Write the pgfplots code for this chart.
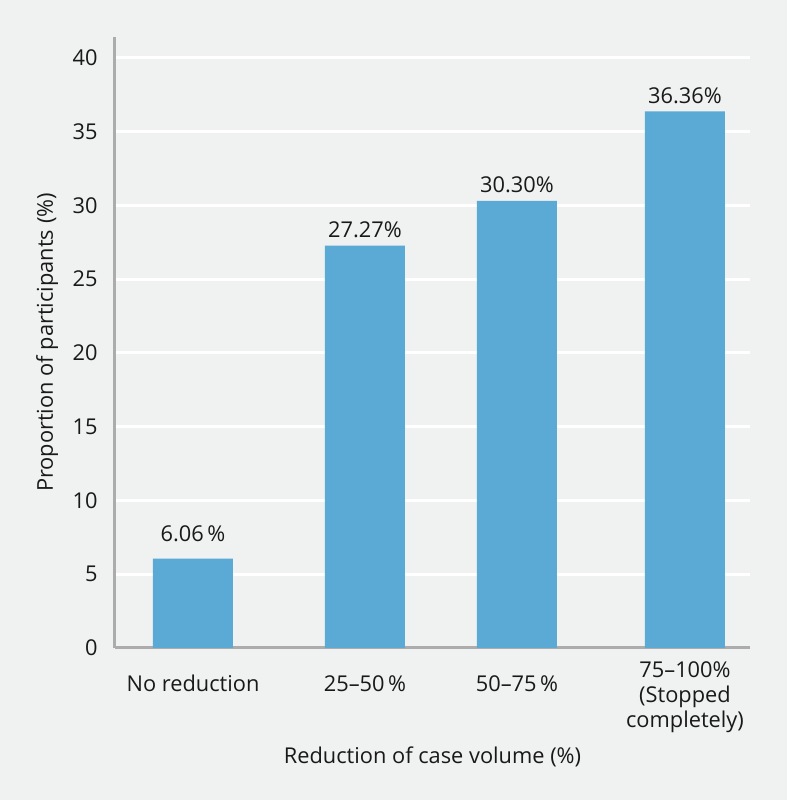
\documentclass[border=0pt]{standalone}
\usepackage{pgfplots}
\pgfplotsset{compat=1.18}
\usepackage{pgfplotstable}
\usepackage{fontspec}
\setmainfont{Open Sans}
\definecolor{bg}{RGB}{240,241,241}
\definecolor{barblue}{RGB}{91,170,214}
\definecolor{axisgray}{RGB}{172,172,172}
\definecolor{txt}{RGB}{25,25,25}
\pgfplotstableread{
x y lab
193 6.06 \raisebox{4.5pt}{6.06\,\%}
365 27.27 27.27\%
517 30.30 30.30\%
685 36.36 36.36\%
}\datatable
\begin{document}
\begin{tikzpicture}[font={\fontsize{10.9}{12.5}\selectfont}, text=txt]
\fill[bg] (0,0) rectangle (393.5pt,400pt);
\begin{axis}[
  at={(57.5pt,76pt)}, anchor=south west,
  scale only axis, width=317.5pt, height=305.5pt,
  xmin=115, xmax=750, ymin=0, ymax=41.4,
  axis x line=bottom, axis y line=left,
  axis line style={axisgray, line width=1.5pt, -},
  ytick={0,5,...,40},
  ymajorgrids, grid style={white, line width=1.5pt},
  major tick length=0pt,
  /pgf/number format/assume math mode=true,
  ticklabel style={font={\fontsize{10.9}{12.5}\selectfont}, text=txt},
  yticklabel style={inner sep=0pt, anchor=east, xshift=-8.5pt},
  xtick={193,365,517},
  xticklabels={No reduction, 25--50\,\%, 50--75\,\%},
  xticklabel style={inner sep=0pt, anchor=base, yshift=-22pt},
  extra x ticks={685},
  extra x tick labels={75--100\%\\(Stopped\\completely)},
  extra x tick style={xticklabel style={anchor=base, align=center, yshift=-17.5pt}},
  xlabel={Reduction of case volume (\%)},
  ylabel={Proportion of participants (\%)},
  xlabel style={at={(axis description cs:0.5,-0.178)}, anchor=center},
  ylabel style={at={(axis description cs:-0.107,0.5)}, anchor=center},
  label style={font={\fontsize{10.9}{12.5}\selectfont}, text=txt},
  clip=false,
]
\addplot[ybar, bar width=80, fill=barblue, draw=none,
  nodes near coords, point meta=explicit symbolic,
  every node near coord/.append style={anchor=base, inner sep=0pt, yshift=4pt, text=txt, font={\fontsize{10.9}{12.5}\selectfont}}]
  table[x=x, y=y, meta=lab] {\datatable};
\end{axis}
\end{tikzpicture}
\end{document}
